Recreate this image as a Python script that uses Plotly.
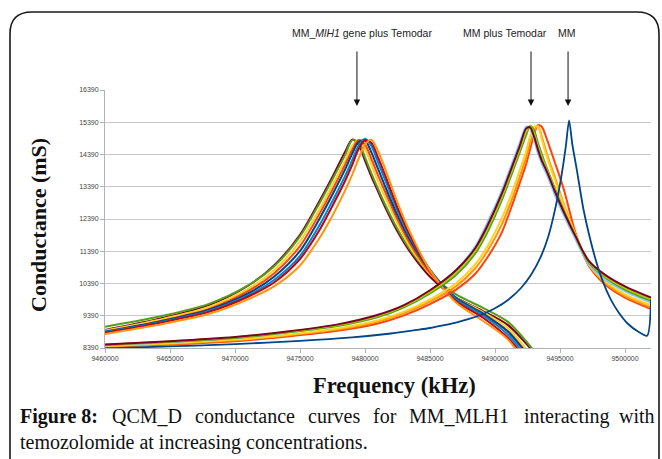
import plotly.graph_objects as go

W, H = 662, 459

# ---------------- data ----------------
# Group A : MM_MLH1 gene plus Temodar
freq_A = [9460000, 9464000, 9468000, 9471000, 9473000, 9475000, 9476500, 9477500,
          9478500, 9479000, 9479500, 9480000, 9480500, 9481000, 9481500, 9482500,
          9483500, 9485000, 9487000, 9489000, 9491000, 9493000]
A_maroon = [8950, 9280, 9720, 10320, 10950, 11900, 12950, 13700, 14500, 14850, 14700, 14200,
            13700, 13250, 12800, 12000, 11350, 10600, 9950, 9550, 9100, 8250]
A_green = [9050, 9350, 9760, 10330, 10920, 11850, 12880, 13620, 14400, 14830, 14780, 14300,
           13800, 13330, 12880, 12080, 11420, 10700, 10050, 9650, 9200, 8300]
A_yellow = [8930, 9250, 9660, 10220, 10800, 11700, 12700, 13450, 14230, 14650, 14830, 14550,
            14050, 13550, 13100, 12250, 11500, 10700, 9950, 9520, 9000, 8050]
A_orangered = [8880, 9200, 9600, 10150, 10700, 11550, 12550, 13300, 14100, 14520, 14840, 14700,
               14250, 13750, 13280, 12380, 11600, 10720, 9900, 9450, 8900, 7950]
A_darkblue = [8900, 9200, 9580, 10080, 10600, 11400, 12400, 13150, 13950, 14400, 14780, 14830,
              14450, 13950, 13450, 12500, 11700, 10800, 9950, 9480, 8900, 7900]
A_blue = [8880, 9170, 9540, 10020, 10500, 11250, 12200, 12950, 13750, 14200, 14650, 14880,
          14650, 14150, 13650, 12650, 11800, 10820, 9900, 9420, 8800, 7800]
A_red = [8860, 9150, 9510, 9980, 10420, 11150, 12050, 12800, 13600, 14050, 14550, 14830,
         14750, 14300, 13800, 12750, 11850, 10800, 9850, 9350, 8700, 7700]
A_orange = [8820, 9100, 9450, 9900, 10300, 10950, 11800, 12500, 13300, 13750, 14250, 14700,
            14850, 14500, 14000, 12900, 11950, 10800, 9800, 9250, 8650, 7500]

# Group B : MM plus Temodar
freq_B = [9460000, 9465000, 9470000, 9474000, 9478000, 9481000, 9483000, 9485000, 9487000,
          9488500, 9489500, 9490500, 9491300, 9491900, 9492400, 9492700, 9493000, 9493300,
          9493600, 9494000, 9494600, 9495300, 9496200, 9497200, 9498500, 9500000, 9502000]
B_lightblue = [8470, 8570, 8700, 8870, 9100, 9380, 9680, 10150, 10800, 11550, 12350, 13250, 14100,
               14750, 15250, 15200, 14850, 14430, 14100, 13750, 13150, 12500, 11750, 11000,
               10500, 10150, 9800]
B_maroon = [8500, 8600, 8730, 8900, 9130, 9420, 9720, 10180, 10800, 11500, 12250, 13150, 14000,
            14650, 15200, 15230, 14950, 14550, 14200, 13850, 13250, 12600, 11850, 11100,
            10650, 10300, 9950]
B_lime = [8490, 8590, 8720, 8890, 9110, 9390, 9690, 10130, 10730, 11420, 12150, 13050, 13900,
          14550, 15100, 15270, 15050, 14650, 14300, 13900, 13300, 12620, 11850, 11080,
          10600, 10250, 9900]
B_green = [8480, 8580, 8700, 8870, 9080, 9350, 9650, 10080, 10650, 11330, 12050, 12950, 13800,
           14450, 15000, 15280, 15150, 14750, 14400, 13950, 13350, 12650, 11850, 11050,
           10570, 10200, 9850]
B_yellow = [8450, 8540, 8650, 8800, 9000, 9250, 9520, 9900, 10400, 11000, 11600, 12400, 13200,
            13900, 14500, 14950, 15250, 15250, 14850, 14300, 13600, 12800, 11900, 11000,
            10450, 10050, 9720]
B_orange = [8430, 8520, 8630, 8780, 8970, 9210, 9470, 9830, 10300, 10870, 11450, 12200, 13000,
            13700, 14300, 14750, 15100, 15300, 14950, 14400, 13700, 12850, 11900, 10980,
            10400, 10000, 9650]
B_orangered = [8420, 8500, 8600, 8750, 8930, 9150, 9400, 9750, 10200, 10700, 11250, 11950, 12800,
               13500, 14100, 14550, 15000, 15300, 15250, 14850, 14150, 13300, 11950, 10950,
               10350, 9950, 9600]

# MM alone
freq_MM = [9460000, 9465000, 9470000, 9475000, 9479000, 9482000, 9484000, 9485000, 9486000,
           9487000, 9488000, 9489000, 9490000, 9491000, 9492000, 9492800, 9493500, 9494100,
           9494600, 9495100, 9495450, 9495700, 9495950, 9496300, 9496800, 9497300, 9497800,
           9498300, 9498900, 9499500, 9500200, 9501000, 9501700, 9502000]
MM_vals = [8380, 8440, 8510, 8610, 8720, 8840, 8950, 9010, 9090, 9180, 9290, 9430, 9620, 9880,
           10250, 10680, 11200, 11850, 12650, 13700, 14650, 15450, 14700, 13900, 12700, 11800,
           11050, 10450, 9900, 9500, 9150, 8900, 8770, 9900]

y_ticks = [8390, 9390, 10390, 11390, 12390, 13390, 14390, 15390, 16390]
x_ticks = [9460000, 9465000, 9470000, 9475000, 9480000, 9485000, 9490000, 9495000, 9500000]

arrow_labels = ["MM_<i>MlH1</i> gene plus Temodar", "MM plus Temodar", "MM"]
arrow_freqs = [9479380, 9492770, 9495620]

# ---------------- figure ----------------
def px(x):
    return x / W

def py(y):
    return 1 - y / H

fig = go.Figure()

groupA = [(A_maroon, "#7E0021"), (A_green, "#579D1C"), (A_yellow, "#FFD320"),
          (A_orangered, "#FF420E"), (A_darkblue, "#004586"), (A_blue, "#0084D1"),
          (A_red, "#C5000B"), (A_orange, "#FF950E")]
for vals, col in groupA:
    fig.add_trace(go.Scatter(x=freq_A, y=vals, mode="lines",
                             line=dict(color=col, width=2, shape="spline", smoothing=0.8),
                             showlegend=False, hoverinfo="skip"))

groupB = [(B_orangered, "#FF420E"), (B_orange, "#FF950E"), (B_yellow, "#FFD320"),
          (B_lightblue, "#83CAFF"), (B_green, "#579D1C"), (B_lime, "#AECF00"),
          (B_maroon, "#7E0021")]
for vals, col in groupB:
    fig.add_trace(go.Scatter(x=freq_B, y=vals, mode="lines",
                             line=dict(color=col, width=2, shape="spline", smoothing=0.8),
                             showlegend=False, hoverinfo="skip"))

fig.add_trace(go.Scatter(x=freq_MM, y=MM_vals, mode="lines",
                         line=dict(color="#004586", width=1.8, shape="spline", smoothing=0.7),
                         showlegend=False, hoverinfo="skip"))

tick_font = dict(family="Liberation Sans, Arial, sans-serif", size=7, color="#444")

fig.update_layout(
    width=W, height=H, autosize=False,
    margin=dict(l=0, r=0, t=0, b=0, pad=0, autoexpand=False),
    paper_bgcolor="white", plot_bgcolor="white",
    xaxis=dict(domain=[px(105), px(651)], range=[9460000, 9502000],
               tickvals=x_ticks, ticktext=[str(v) for v in x_ticks],
               showgrid=False, zeroline=False, automargin=False,
               showline=True, linecolor="#b3b3b3", linewidth=1,
               ticks="outside", ticklen=4, tickcolor="#b3b3b3",
               tickfont=tick_font),
    yaxis=dict(domain=[py(348), py(90)], range=[8390, 16390],
               tickvals=y_ticks, ticktext=[str(v) for v in y_ticks],
               showgrid=True, gridcolor="#c8c8c8", gridwidth=1, zeroline=False,
               automargin=False,
               showline=True, linecolor="#b3b3b3", linewidth=1,
               ticks="outside", ticklen=4, tickcolor="#b3b3b3",
               tickfont=tick_font),
)

# rounded frame
x0, x1, yt, yb = px(10), px(659), py(12), py(475)
rx, ry = 22 / W, 22 / H
path = (f"M {x0},{yb} L {x0},{yt - ry} Q {x0},{yt} {x0 + rx},{yt} "
        f"L {x1 - rx},{yt} Q {x1},{yt} {x1},{yt - ry} L {x1},{yb}")
fig.add_shape(type="path", path=path, xref="paper", yref="paper",
              line=dict(color="#1a1a1a", width=1.6))

# arrows and their labels
label_x = [362, 505, 567]
for lab, fq, lx in zip(arrow_labels, arrow_freqs, label_x):
    fig.add_annotation(x=fq, y=py(106), xref="x", yref="paper", text="",
                       showarrow=True, ax=0, ay=-56, axref="pixel", ayref="pixel",
                       arrowhead=2, arrowsize=1.3, arrowwidth=1, arrowcolor="#111")
    fig.add_annotation(x=px(lx), y=py(33), xref="paper", yref="paper", text=lab,
                       showarrow=False, xanchor="center", yanchor="middle",
                       font=dict(family="Liberation Sans, Arial, sans-serif", size=10.5,
                                 color="#222"))

serif = "Liberation Serif, Times New Roman, serif"
fig.add_annotation(x=px(38), y=py(225), xref="paper", yref="paper",
                   text="<b>Conductance (mS)</b>", textangle=-90, showarrow=False,
                   xanchor="center", yanchor="middle",
                   font=dict(family=serif, size=22, color="#111"))
fig.add_annotation(x=px(394), y=py(385), xref="paper", yref="paper",
                   text="<b>Frequency (kHz)</b>", showarrow=False,
                   xanchor="center", yanchor="middle",
                   font=dict(family=serif, size=22.5, color="#111"))

# caption (justified line by word placement)
cap_words = ["<b>Figure 8:</b>", "QCM_D", "conductance", "curves", "for", "MM_MLH1",
             "interacting"]
cap_x = [18, 110, 193, 306, 371, 407, 522]
cap_font = dict(family=serif, size=20, color="#111")
for wtxt, wx in zip(cap_words, cap_x):
    fig.add_annotation(x=px(wx), y=py(416), xref="paper", yref="paper", text=wtxt,
                       showarrow=False, xanchor="left", yanchor="middle", font=cap_font)
fig.add_annotation(x=px(657), y=py(416), xref="paper", yref="paper", text="with",
                   showarrow=False, xanchor="right", yanchor="middle", font=cap_font)
fig.add_annotation(x=px(18), y=py(442), xref="paper", yref="paper",
                   text="temozolomide at increasing concentrations.",
                   showarrow=False, xanchor="left", yanchor="middle", font=cap_font)

fig.write_html("out.html")
